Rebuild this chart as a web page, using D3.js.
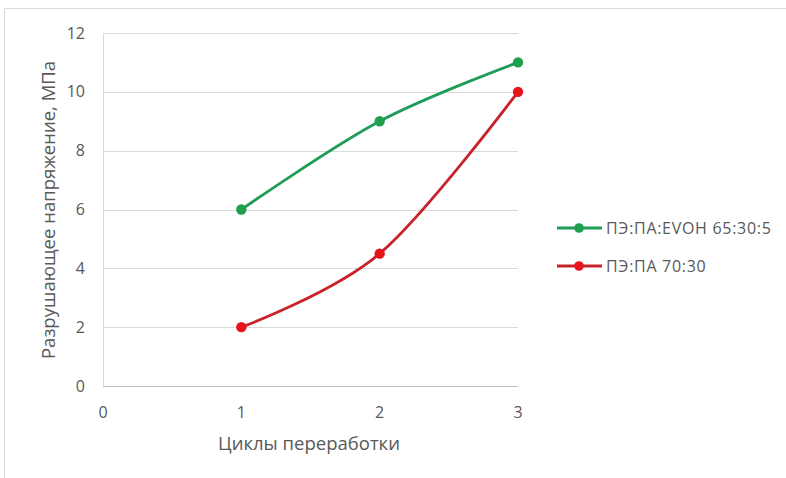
<!DOCTYPE html>
<html><head><meta charset="utf-8">
<script src="https://cdn.jsdelivr.net/npm/d3@7"></script>
<style>body{margin:0;background:#fff;} svg{display:block;}</style>
</head><body>
<svg id="c" width="786" height="478"></svg>
<script>
const cycles = [1, 2, 3];
const seriesNames = ["ПЭ:ПА:EVOH 65:30:5", "ПЭ:ПА 70:30"];
const evohValues = [6, 9, 11];
const paValues = [2, 4.5, 10];
const yTicks = [0, 2, 4, 6, 8, 10, 12];
const xTicks = [0, 1, 2, 3];

const series = [
  {name: seriesNames[0], values: evohValues, line: "#1f9c57", marker: "#1fa04f"},
  {name: seriesNames[1], values: paValues, line: "#c8232b", marker: "#e8141c"}
];

const svg = d3.select("#c");
const font = "'Open Sans', 'Segoe UI', sans-serif";
const textColor = "#595959";

// outer frame
svg.append("path").attr("d", "M4.5,478 V8.5 H786").attr("fill","none").attr("stroke","#d9d9d9").attr("stroke-width",1);

const x = d3.scaleLinear().domain([0, 3]).range([103, 518]);
const y = d3.scaleLinear().domain([0, 12]).range([386, 33]);

const g = svg.append("g");

// gridlines
g.selectAll("line.grid").data(yTicks.filter(d => d > 0)).join("line")
  .attr("x1", x(0)).attr("x2", x(3))
  .attr("y1", d => Math.round(y(d)) + 0.5).attr("y2", d => Math.round(y(d)) + 0.5)
  .attr("stroke", "#d9d9d9").attr("stroke-width", 1);

// axes lines
g.append("line").attr("x1", x(0)).attr("x2", x(3)).attr("y1", Math.round(y(0))+0.5).attr("y2", Math.round(y(0))+0.5)
  .attr("stroke", "#bfbfbf");
g.append("line").attr("x1", Math.round(x(0))+0.5).attr("x2", Math.round(x(0))+0.5).attr("y1", y(12)).attr("y2", y(0))
  .attr("stroke", "#d9d9d9");

// y tick labels
g.selectAll("text.yt").data(yTicks).join("text")
  .attr("x", 85).attr("y", d => y(d)).attr("dy", "0.35em")
  .attr("text-anchor", "end").attr("font-family", font).attr("font-size", 16).attr("fill", textColor)
  .text(d => d);

// x tick labels
g.selectAll("text.xt").data(xTicks).join("text")
  .attr("x", d => x(d)).attr("y", 418)
  .attr("text-anchor", "middle").attr("font-family", font).attr("font-size", 16).attr("fill", textColor)
  .text(d => d);

// axis titles
svg.append("text").attr("x", 309).attr("y", 450).attr("text-anchor", "middle")
  .attr("font-family", font).attr("font-size", 18.5).attr("fill", textColor).text("Циклы переработки");
svg.append("text").attr("transform", "translate(55,210) rotate(-90)").attr("text-anchor", "middle")
  .attr("font-family", font).attr("font-size", 18.5).attr("fill", textColor).text("Разрушающее напряжение, МПа");

// lines
const line = d3.line().x((d, i) => x(cycles[i])).y(d => y(d)).curve(d3.curveCardinal.tension(0));
series.forEach(s => {
  g.append("path").attr("d", line(s.values)).attr("fill", "none")
    .attr("stroke", s.line).attr("stroke-width", 2.8).attr("stroke-linecap", "round");
  g.selectAll(null).data(s.values).join("circle")
    .attr("cx", (d, i) => x(cycles[i])).attr("cy", d => y(d)).attr("r", 5.2)
    .attr("fill", s.marker);
});

// legend
const legY = [228, 266];
series.forEach((s, i) => {
  const lg = svg.append("g");
  lg.append("line").attr("x1", 557).attr("x2", 602).attr("y1", legY[i]).attr("y2", legY[i])
    .attr("stroke", s.line).attr("stroke-width", 2.8);
  lg.append("circle").attr("cx", 579).attr("cy", legY[i]).attr("r", 4.8).attr("fill", s.marker);
  lg.append("text").attr("x", 606).attr("y", legY[i]).attr("dy", "0.35em")
    .attr("font-family", font).attr("font-size", 16).attr("letter-spacing", 0.7).attr("fill", textColor).text(s.name);
});
</script>
</body></html>
